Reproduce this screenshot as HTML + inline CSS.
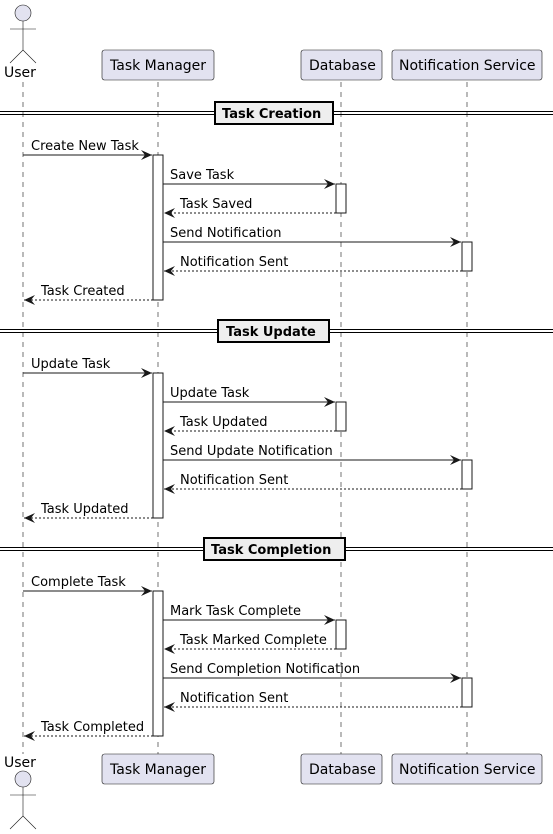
<!DOCTYPE html>
<html><head><meta charset="utf-8"><style>
html,body{margin:0;padding:0;background:#fff;}
svg{display:block;font-family:"DejaVu Sans","Liberation Sans",sans-serif;}
</style></head><body>
<svg width="553" height="834" viewBox="0 0 553 834" xmlns="http://www.w3.org/2000/svg">
<defs>
<marker id="a" markerWidth="12" markerHeight="10" refX="11" refY="5" orient="auto" markerUnits="userSpaceOnUse">
<polygon points="11,5 0,0 4,5 0,10" fill="#181818"/>
</marker>
</defs>
<g stroke="#181818" stroke-width="0.6" stroke-dasharray="5,5">
<line x1="23" y1="82" x2="23" y2="754"/>
<line x1="158" y1="82" x2="158" y2="754"/>
<line x1="341" y1="82" x2="341" y2="754"/>
<line x1="467" y1="82" x2="467" y2="754"/>
</g>
<!-- actors top -->
<g fill="#E2E2F0" stroke="#181818" stroke-width="0.6">
<circle cx="23" cy="13" r="8"/>
<circle cx="23" cy="779" r="8"/>
</g>
<g stroke="#181818" stroke-width="0.6" fill="none">
<path d="M23 21 V50 M10 29 H36 M23 50 L10 63 M23 50 L36 63"/>
<path d="M23 787 V816 M10 795 H36 M23 816 L10 829 M23 816 L36 829"/>
</g>
<g font-size="14" fill="#000">
<text x="4" y="77">User</text>
<text x="4" y="767">User</text>
</g>
<!-- participant boxes -->
<g fill="#E2E2F0" stroke="#181818" stroke-width="0.6">
<rect x="102" y="50" width="112" height="30" rx="2.5"/>
<rect x="301" y="50" width="81" height="30" rx="2.5"/>
<rect x="392" y="50" width="150" height="30" rx="2.5"/>
<rect x="102" y="754" width="112" height="30" rx="2.5"/>
<rect x="301" y="754" width="81" height="30" rx="2.5"/>
<rect x="392" y="754" width="150" height="30" rx="2.5"/>
</g>
<g font-size="14" fill="#000">
<text x="110" y="70">Task Manager</text>
<text x="309" y="70">Database</text>
<text x="399" y="70">Notification Service</text>
<text x="110" y="774">Task Manager</text>
<text x="309" y="774">Database</text>
<text x="399" y="774">Notification Service</text>
</g>
<!-- activations -->
<g fill="#fff" stroke="#181818" stroke-width="1">
<rect x="153" y="155" width="10" height="145"/>
<rect x="336" y="184" width="10" height="29"/>
<rect x="462" y="242" width="10" height="29"/>
<rect x="153" y="373" width="10" height="145"/>
<rect x="336" y="402" width="10" height="29"/>
<rect x="462" y="460" width="10" height="29"/>
<rect x="153" y="591" width="10" height="145"/>
<rect x="336" y="620" width="10" height="29"/>
<rect x="462" y="678" width="10" height="29"/>
</g>
<!-- dividers -->
<g stroke="#000" stroke-width="1" fill="none">
<path d="M0 111.5 H553 M0 114.5 H553"/>
<path d="M0 329.5 H553 M0 332.5 H553"/>
<path d="M0 547.5 H553 M0 550.5 H553"/>
</g>
<g fill="#EEEEEE" stroke="#000" stroke-width="2">
<rect x="215" y="102" width="118" height="22"/>
<rect x="218" y="320" width="111" height="22"/>
<rect x="204" y="538" width="141" height="22"/>
</g>
<g font-size="13" font-weight="bold" fill="#000">
<text x="222" y="118">Task Creation</text>
<text x="226" y="336">Task Update</text>
<text x="211" y="554">Task Completion</text>
</g>
<!-- messages -->
<g stroke="#181818" stroke-width="1" marker-end="url(#a)">
<line x1="23" y1="155" x2="152" y2="155"/>
<line x1="163" y1="184" x2="335" y2="184"/>
<line x1="336" y1="213" x2="164" y2="213" stroke-dasharray="2,2"/>
<line x1="163" y1="242" x2="461" y2="242"/>
<line x1="462" y1="271" x2="164" y2="271" stroke-dasharray="2,2"/>
<line x1="153" y1="300" x2="24" y2="300" stroke-dasharray="2,2"/>
<line x1="23" y1="373" x2="152" y2="373"/>
<line x1="163" y1="402" x2="335" y2="402"/>
<line x1="336" y1="431" x2="164" y2="431" stroke-dasharray="2,2"/>
<line x1="163" y1="460" x2="461" y2="460"/>
<line x1="462" y1="489" x2="164" y2="489" stroke-dasharray="2,2"/>
<line x1="153" y1="518" x2="24" y2="518" stroke-dasharray="2,2"/>
<line x1="23" y1="591" x2="152" y2="591"/>
<line x1="163" y1="620" x2="335" y2="620"/>
<line x1="336" y1="649" x2="164" y2="649" stroke-dasharray="2,2"/>
<line x1="163" y1="678" x2="461" y2="678"/>
<line x1="462" y1="707" x2="164" y2="707" stroke-dasharray="2,2"/>
<line x1="153" y1="736" x2="24" y2="736" stroke-dasharray="2,2"/>
</g>
<g font-size="13" fill="#000">
<text x="31" y="150">Create New Task</text>
<text x="170" y="179">Save Task</text>
<text x="180" y="208">Task Saved</text>
<text x="170" y="237">Send Notification</text>
<text x="180" y="266">Notification Sent</text>
<text x="41" y="295">Task Created</text>
<text x="31" y="368">Update Task</text>
<text x="170" y="397">Update Task</text>
<text x="180" y="426">Task Updated</text>
<text x="170" y="455">Send Update Notification</text>
<text x="180" y="484">Notification Sent</text>
<text x="41" y="513">Task Updated</text>
<text x="31" y="586">Complete Task</text>
<text x="170" y="615">Mark Task Complete</text>
<text x="180" y="644">Task Marked Complete</text>
<text x="170" y="673">Send Completion Notification</text>
<text x="180" y="702">Notification Sent</text>
<text x="41" y="731">Task Completed</text>
</g>
</svg>
</body></html>
